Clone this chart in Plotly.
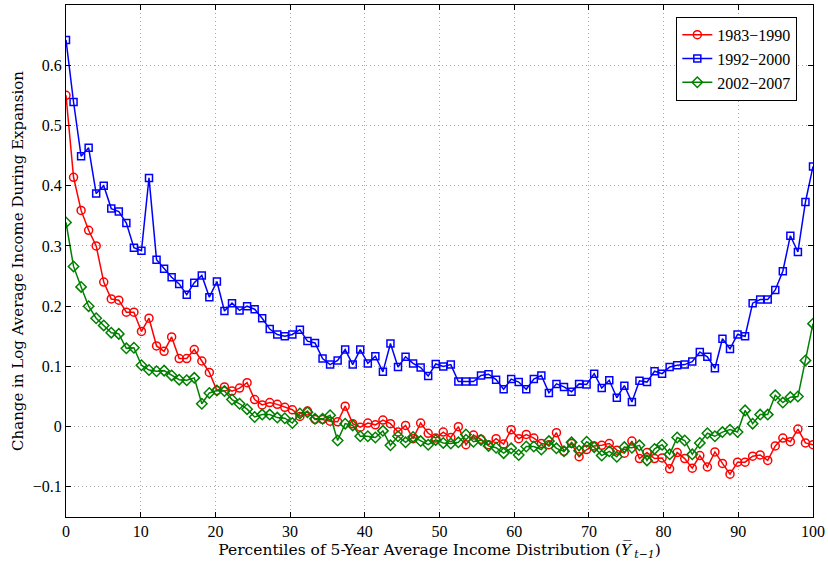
import numpy as np
import plotly.graph_objects as go

# change in log average income, 100 points across the percentile range
income_1983_1990 = [
    0.550, 0.414, 0.359, 0.326, 0.300, 0.240, 0.212, 0.210, 0.190, 0.190,
    0.158, 0.180, 0.134, 0.125, 0.149, 0.113, 0.113, 0.128, 0.109, 0.090,
    0.060, 0.066, 0.059, 0.064, 0.073, 0.045, 0.036, 0.040, 0.037, 0.032,
    0.028, 0.017, 0.026, 0.012, 0.012, 0.009, 0.008, 0.034, 0.005, -0.001,
    0.006, 0.003, 0.011, 0.005, -0.009, 0.002, -0.020, 0.006, -0.011, -0.019,
    -0.009, -0.018, 0.000, -0.030, -0.014, -0.021, -0.030, -0.020, -0.029, -0.005,
    -0.020, -0.013, -0.019, -0.028, -0.030, -0.010, -0.041, -0.028, -0.050, -0.038,
    -0.032, -0.031, -0.028, -0.039, -0.044, -0.024, -0.053, -0.043, -0.053, -0.052,
    -0.070, -0.043, -0.053, -0.069, -0.048, -0.067, -0.042, -0.061, -0.079, -0.059,
    -0.059, -0.049, -0.047, -0.056, -0.032, -0.019, -0.025, -0.004, -0.027, -0.030,
]
income_1992_2000 = [
    0.642, 0.539, 0.449, 0.463, 0.387, 0.400, 0.362, 0.357, 0.338, 0.297,
    0.292, 0.413, 0.277, 0.262, 0.248, 0.237, 0.219, 0.239, 0.251, 0.215,
    0.241, 0.192, 0.205, 0.193, 0.200, 0.195, 0.180, 0.162, 0.153, 0.150,
    0.153, 0.161, 0.142, 0.139, 0.113, 0.103, 0.110, 0.128, 0.103, 0.128,
    0.105, 0.117, 0.091, 0.138, 0.099, 0.116, 0.105, 0.098, 0.084, 0.104,
    0.100, 0.103, 0.075, 0.075, 0.075, 0.085, 0.087, 0.078, 0.062, 0.079,
    0.074, 0.062, 0.079, 0.085, 0.056, 0.071, 0.066, 0.058, 0.071, 0.070,
    0.088, 0.064, 0.077, 0.048, 0.068, 0.041, 0.076, 0.074, 0.092, 0.088,
    0.099, 0.102, 0.103, 0.108, 0.124, 0.116, 0.097, 0.146, 0.129, 0.153,
    0.150, 0.205, 0.211, 0.211, 0.227, 0.258, 0.317, 0.290, 0.373, 0.432,
]
income_2002_2007 = [
    0.339, 0.266, 0.232, 0.200, 0.180, 0.168, 0.156, 0.154, 0.130, 0.131,
    0.102, 0.094, 0.092, 0.093, 0.085, 0.078, 0.077, 0.081, 0.038, 0.056,
    0.060, 0.059, 0.045, 0.038, 0.029, 0.016, 0.020, 0.020, 0.015, 0.014,
    0.006, 0.022, 0.024, 0.013, 0.013, 0.019, -0.023, 0.005, 0.002, -0.016,
    -0.016, -0.018, -0.007, -0.031, -0.016, -0.026, -0.017, -0.024, -0.030, -0.022,
    -0.027, -0.028, -0.026, -0.013, -0.025, -0.022, -0.032, -0.035, -0.044, -0.036,
    -0.047, -0.033, -0.033, -0.038, -0.024, -0.036, -0.041, -0.026, -0.040, -0.025,
    -0.034, -0.048, -0.041, -0.050, -0.034, -0.035, -0.031, -0.056, -0.037, -0.030,
    -0.046, -0.018, -0.023, -0.046, -0.027, -0.011, -0.016, -0.009, -0.005, -0.009,
    0.027, 0.005, 0.020, 0.020, 0.052, 0.040, 0.049, 0.050, 0.110, 0.171,
]
series_names = ['1983\u22121990', '1992\u22122000', '2002\u22122007']
series_colors = ['#ff0000', '#0000ff', '#008000']
series_symbols = ['circle-open', 'square-open', 'diamond-open']

# the 100 points are spread evenly over 0..100
percentiles = np.linspace(0, 100, len(income_1983_1990))

fig = go.Figure()
for name, values, color, symbol in zip(series_names,
                                       [income_1983_1990, income_1992_2000, income_2002_2007],
                                       series_colors, series_symbols):
    fig.add_trace(go.Scatter(
        x=percentiles,
        y=values,
        mode='lines+markers',
        name=name,
        line=dict(color=color, width=1.5),
        marker=dict(symbol=symbol, size=8 if symbol != 'square-open' else 7,
                    color=color, line=dict(color=color, width=1.5)),
    ))

axis_style = dict(
    automargin=False,
    showline=True, linecolor='black', linewidth=1, mirror='ticks',
    ticks='inside', ticklen=5, tickcolor='black',
    showgrid=True, gridcolor='#a8a8a8', griddash='1px,3px', gridwidth=1,
    zeroline=False,
    tickfont=dict(family='Liberation Serif', size=16, color='black'),
)
fig.update_xaxes(range=[0, 100], tick0=0, dtick=10,
                 title=dict(text='Percentiles of 5-Year Average Income Distribution '
                                 '(<i>Y\u0305</i>\u2009<sub><i>t\u22121</i></sub>)',
                            font=dict(family='DejaVu Serif', size=15.5, color='black'),
                            standoff=2),
                 **axis_style)
fig.update_yaxes(range=[-0.15, 0.70], tick0=0, dtick=0.1,
                 title=dict(text='Change in Log Average Income During Expansion',
                            font=dict(family='DejaVu Serif', size=15, color='black'),
                            standoff=5),
                 **axis_style)

fig.update_layout(
    width=828, height=562,
    plot_bgcolor='white', paper_bgcolor='white',
    margin=dict(l=66, r=15, t=5, b=45),
    showlegend=True,
    legend=dict(x=0.979, y=0.977, xanchor='right', yanchor='top',
                bgcolor='white', bordercolor='black', borderwidth=1,
                font=dict(family='Liberation Serif', size=16, color='black'),
                tracegroupgap=2),
)

# page body has a default 8px margin; drop it so the figure sits at the corner
fig.write_html('out.html', config={'displayModeBar': False},
               post_script="document.body.style.margin='0px';")
